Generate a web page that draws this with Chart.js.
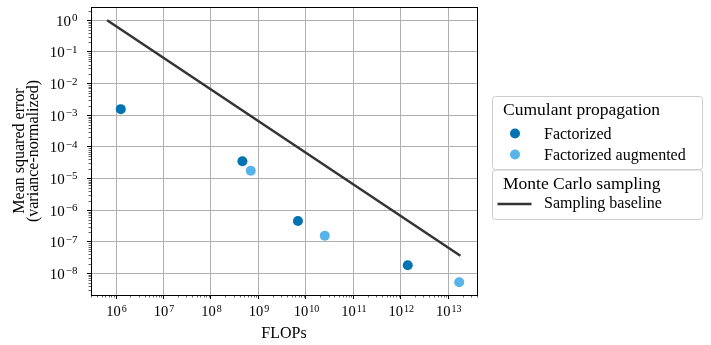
<!DOCTYPE html>
<html>
<head>
<meta charset="utf-8">
<script src="https://cdn.jsdelivr.net/npm/chart.js@4.4.0/dist/chart.umd.min.js"></script>
<style>
  body { margin: 0; background: #ffffff; }
</style>
</head>
<body>
<canvas id="graph" width="711" height="345"></canvas>
<script>
// values
var factorizedFlops = [1.26e6, 4.6e8, 6.8e9, 1.4e12];
var factorizedMse = [1.55e-3, 3.5e-5, 4.5e-7, 1.8e-8];
var augmentedFlops = [6.9e8, 2.5e10, 1.7e13];
var augmentedMse = [1.74e-5, 1.55e-7, 5.2e-9];
var baselineFlops = [6.5e5, 1.8e13];
var baselineMse = [1.0, 3.6e-8];

var xTickExps = [6, 7, 8, 9, 10, 11, 12, 13];
var yTickExps = [0, -1, -2, -3, -4, -5, -6, -7, -8];

var legendGroups = [
  { title: 'Cumulant propagation', items: [0, 1] },
  { title: 'Monte Carlo sampling', items: [2] }
];

var serif = '"Liberation Serif", "Times New Roman", serif';

function toPoints(xs, ys) {
  return xs.map(function (x, i) { return { x: x, y: ys[i] }; });
}

// draws 10^exp, y is the baseline of "10"
function drawPow(ctx, exp, x, y, align, size) {
  var base = '10';
  var sup = exp < 0 ? '\u2212' + (-exp) : String(exp);
  var supSize = Math.round(size * 0.72);
  ctx.font = size + 'px ' + serif;
  var wb = ctx.measureText(base).width;
  ctx.font = supSize + 'px ' + serif;
  var ws = ctx.measureText(sup).width;
  var total = wb + ws + 1;
  var left = align === 'right' ? x - total : x - total / 2;
  ctx.textAlign = 'left';
  ctx.textBaseline = 'alphabetic';
  ctx.font = size + 'px ' + serif;
  ctx.fillText(base, left, y);
  ctx.font = supSize + 'px ' + serif;
  ctx.fillText(sup, left + wb + 1, y - 4.5);
}

function majorTicks(exps) {
  return function (scale) {
    scale.ticks = exps.map(function (e) { return { value: Math.pow(10, e) }; });
  };
}

var axesPlugin = {
  id: 'axesPlugin',
  afterDraw: function (chart) {
    var ctx = chart.ctx;
    var a = chart.chartArea;
    var xs = chart.scales.x, ys = chart.scales.y;
    ctx.save();
    ctx.fillStyle = '#000';
    ctx.strokeStyle = '#000';

    // minor ticks
    ctx.lineWidth = 0.6;
    ctx.beginPath();
    for (var e = 5; e <= 13; e++) {
      for (var k = 2; k <= 9; k++) {
        var v = k * Math.pow(10, e);
        if (v > xs.min && v < xs.max) {
          var px = Math.round(xs.getPixelForValue(v)) + 0.5;
          ctx.moveTo(px, a.bottom);
          ctx.lineTo(px, a.bottom + 2.5);
        }
      }
    }
    for (var e2 = -9; e2 <= 0; e2++) {
      for (var k2 = 2; k2 <= 9; k2++) {
        var v2 = k2 * Math.pow(10, e2);
        if (v2 > ys.min && v2 < ys.max) {
          var py = Math.round(ys.getPixelForValue(v2)) + 0.5;
          ctx.moveTo(a.left, py);
          ctx.lineTo(a.left - 2.5, py);
        }
      }
    }
    ctx.stroke();

    // box
    ctx.lineWidth = 1;
    ctx.strokeRect(Math.round(a.left) + 0.5, Math.round(a.top) + 0.5,
      Math.round(a.right - a.left), Math.round(a.bottom - a.top));

    // tick labels
    xTickExps.forEach(function (e) {
      drawPow(ctx, e, xs.getPixelForValue(Math.pow(10, e)) + 0.5, 316, 'center', 14.5);
    });
    yTickExps.forEach(function (e) {
      drawPow(ctx, e, 77.5, ys.getPixelForValue(Math.pow(10, e)) + 5.5, 'right', 15);
    });

    // axis titles
    ctx.font = '16px ' + serif;
    ctx.textAlign = 'center';
    ctx.textBaseline = 'alphabetic';
    ctx.fillText('FLOPs', (a.left + a.right) / 2, 338);
    ctx.save();
    ctx.translate(0, (a.top + a.bottom) / 2);
    ctx.rotate(-Math.PI / 2);
    ctx.textBaseline = 'middle';
    ctx.font = '16px ' + serif;
    ctx.fillText('Mean squared error', 0, 19.5);
    ctx.fillText('(variance-normalized)', 0, 34);
    ctx.restore();

    // legend
    var ds = chart.data.datasets;
    var boxes = [
      { top: 96.5, bottom: 169.5, titleY: 114.5, rows: [138.5, 159.5] },
      { top: 170, bottom: 219.5, titleY: 188.5, rows: [208] }
    ];
    legendGroups.forEach(function (g, gi) {
      var b = boxes[gi];
      ctx.beginPath();
      ctx.roundRect(492.5, b.top, 210, b.bottom - b.top, 3);
      ctx.fillStyle = 'rgba(255,255,255,0.8)';
      ctx.fill();
      ctx.strokeStyle = '#cccccc';
      ctx.lineWidth = 1;
      ctx.stroke();
      ctx.fillStyle = '#000';
      ctx.textAlign = 'left';
      ctx.textBaseline = 'alphabetic';
      ctx.font = '17.5px ' + serif;
      ctx.fillText(g.title, 503, b.titleY);
      g.items.forEach(function (idx, r) {
        var d = ds[idx];
        var y = b.rows[r];
        if (d.showLine) {
          ctx.strokeStyle = d.borderColor;
          ctx.lineWidth = d.borderWidth;
          ctx.beginPath();
          ctx.moveTo(497.5, y - 4);
          ctx.lineTo(531.5, y - 4);
          ctx.stroke();
        } else {
          ctx.fillStyle = d.backgroundColor;
          ctx.beginPath();
          ctx.arc(515, y - 5, 5, 0, Math.PI * 2);
          ctx.fill();
        }
        ctx.fillStyle = '#000';
        ctx.font = '16px ' + serif;
        ctx.fillText(d.label, 544, y);
      });
    });
    ctx.restore();
  }
};

var data = {
  datasets: [{
    label: 'Factorized',
    data: toPoints(factorizedFlops, factorizedMse),
    backgroundColor: '#0173b2',
    borderWidth: 0,
    pointRadius: 5,
    pointHoverRadius: 5
  }, {
    label: 'Factorized augmented',
    data: toPoints(augmentedFlops, augmentedMse),
    backgroundColor: '#56b4e9',
    borderWidth: 0,
    pointRadius: 5,
    pointHoverRadius: 5
  }, {
    label: 'Sampling baseline',
    data: toPoints(baselineFlops, baselineMse),
    showLine: true,
    borderColor: '#333333',
    borderWidth: 2.5,
    pointRadius: 0,
    pointHoverRadius: 0
  }]
};

var gridOpts = {
  color: '#b0b0b0',
  lineWidth: 1,
  tickColor: '#000',
  tickLength: 4,
  tickWidth: 1
};

var config = {
  type: 'scatter',
  data: data,
  options: {
    responsive: false,
    animation: false,
    events: [],
    layout: { padding: { left: 0, right: 234, top: 7, bottom: 0 } },
    plugins: {
      legend: { display: false },
      tooltip: { enabled: false }
    },
    scales: {
      x: {
        type: 'logarithmic',
        min: Math.pow(10, 5.473),
        max: Math.pow(10, 13.605),
        grid: gridOpts,
        border: { display: true, color: '#000', width: 1 },
        ticks: { display: false },
        afterBuildTicks: majorTicks(xTickExps),
        afterFit: function (s) { s.height = 50; }
      },
      y: {
        type: 'logarithmic',
        min: Math.pow(10, -8.685),
        max: Math.pow(10, 0.42),
        grid: gridOpts,
        border: { display: true, color: '#000', width: 1 },
        ticks: { display: false },
        afterBuildTicks: majorTicks(yTickExps),
        afterFit: function (s) { s.width = 91; }
      }
    }
  },
  plugins: [axesPlugin]
};

var graph = new Chart(document.getElementById('graph'), config);
</script>
</body>
</html>
